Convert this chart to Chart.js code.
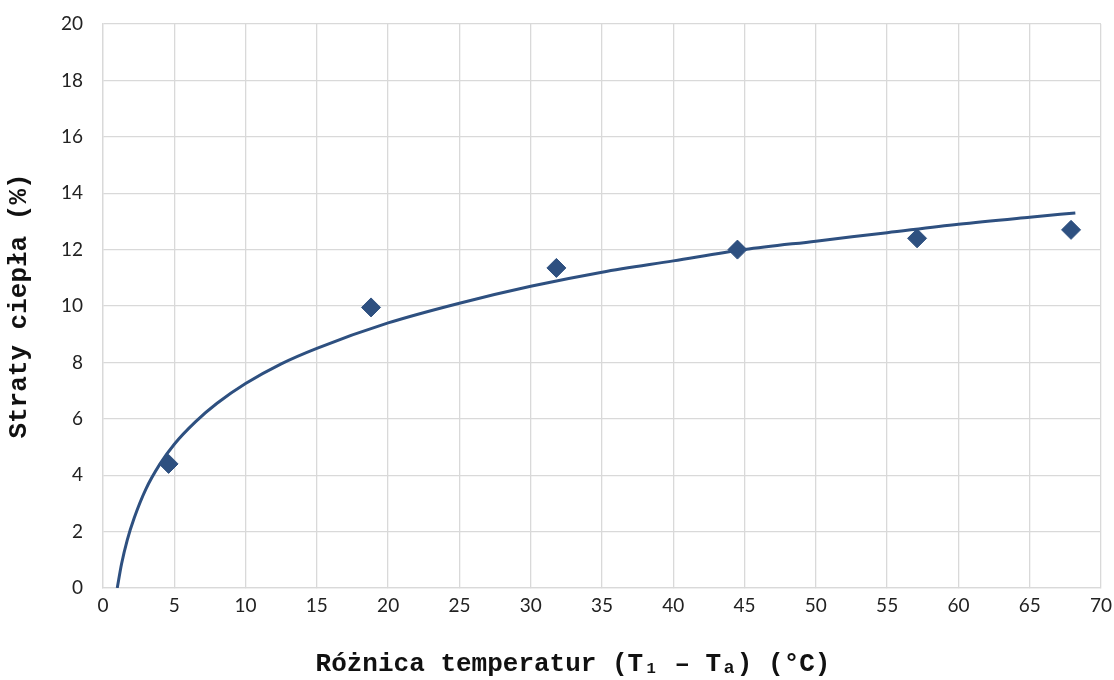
<!DOCTYPE html>
<html>
<head>
<meta charset="utf-8">
<script src="https://cdn.jsdelivr.net/npm/chart.js@4"></script>
<style>
  html, body { margin: 0; padding: 0; background: #fff; }
  #wrap { width: 1114px; height: 680px; }
</style>
</head>
<body>
<div id="wrap"><canvas id="lossChart"></canvas></div>
<script>
  // measured points
  const tempDiff = [4.6, 18.8, 31.8, 44.5, 57.1, 67.9];
  const heatLoss = [4.4, 9.95, 11.35, 12.0, 12.4, 12.7];

  // trendline
  const trendX = [1.0, 1.3, 1.7, 2.2, 3.0, 4.0, 5.0, 6.5, 8.0, 10, 12.5, 15, 20, 25, 30, 35, 40, 45, 50, 55, 60, 65, 68.2];
  const trendY = [0.0, 0.85, 1.7, 2.5, 3.5, 4.4, 5.1, 5.9, 6.55, 7.25, 7.95, 8.5, 9.4, 10.1, 10.7, 11.2, 11.6, 12.0, 12.3, 12.6, 12.9, 13.15, 13.3];

  const xTitle = 'Różnica temperatur (T₁ – Tₐ) (°C)';
  const yTitle = 'Straty ciepła (%)';

  const blue = '#2E5080';
  const gridGray = '#d9d9d9';
  const monoTitle = { family: '"Liberation Mono", "DejaVu Sans Mono", monospace', size: 26, weight: 'bold' };
  const tickFont = { family: 'Lato, "Open Sans", sans-serif', size: 19 };

  // x title sits a bit left of the plot centre in the original
  const xTitlePlugin = {
    id: 'xTitle',
    afterDraw(chart) {
      const ctx = chart.ctx;
      ctx.save();
      ctx.font = 'bold 26px "Liberation Mono", "DejaVu Sans Mono", monospace';
      ctx.fillStyle = '#111';
      ctx.textAlign = 'center';
      ctx.textBaseline = 'middle';
      ctx.fillText(xTitle, 573, 664);
      ctx.restore();
    }
  };

  new Chart(document.getElementById('lossChart'), {
    type: 'scatter',
    data: {
      datasets: [{
        type: 'line',
        label: 'Trend',
        data: trendX.map((x, i) => ({ x: x, y: trendY[i] })),
        borderColor: blue,
        borderWidth: 3,
        pointRadius: 0,
        cubicInterpolationMode: 'monotone',
        fill: false,
        order: 0
      }, {
        label: 'Straty',
        data: tempDiff.map((x, i) => ({ x: x, y: heatLoss[i] })),
        pointStyle: 'rectRot',
        pointRadius: 9.5,
        pointHoverRadius: 9.5,
        backgroundColor: blue,
        borderColor: blue,
        borderWidth: 1,
        order: 1
      }]
    },
    plugins: [xTitlePlugin],
    options: {
      responsive: true,
      maintainAspectRatio: false,
      animation: false,
      layout: { padding: { top: 24, right: 13, left: 0, bottom: 0 } },
      plugins: { legend: { display: false }, tooltip: { enabled: false } },
      scales: {
        x: {
          type: 'linear',
          min: 0, max: 70,
          ticks: { stepSize: 5, color: '#222', font: tickFont, padding: 6 },
          grid: { color: gridGray, tickLength: 0, lineWidth: 1.3 },
          border: { color: gridGray, width: 1.3 },
          afterFit: (s) => { s.height = 92; s.paddingLeft = 0; s.paddingRight = 0; }
        },
        y: {
          min: 0, max: 20,
          ticks: { stepSize: 2, color: '#222', font: tickFont, padding: 20 },
          grid: { color: gridGray, tickLength: 0, lineWidth: 1.3 },
          border: { color: gridGray, width: 1.3 },
          title: {
            display: true,
            text: yTitle,
            color: '#111',
            font: monoTitle,
            padding: { top: 4, bottom: 0 }
          },
          afterFit: (s) => { s.width = 103; s.paddingTop = 0; s.paddingBottom = 0; }
        }
      }
    }
  });
</script>
</body>
</html>
